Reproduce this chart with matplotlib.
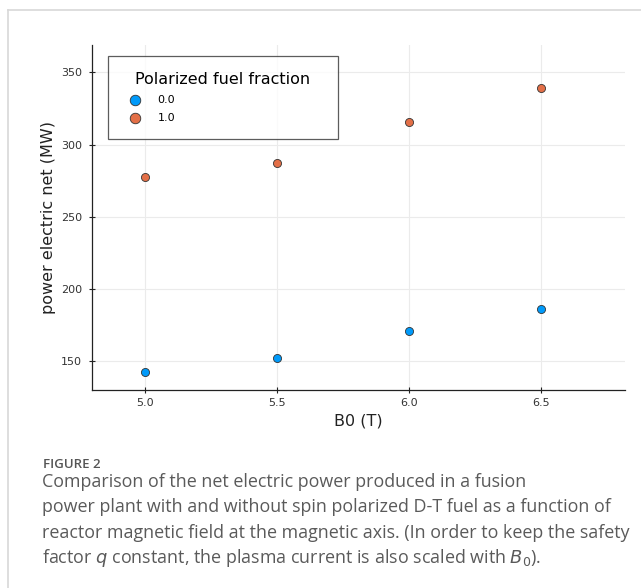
import matplotlib
matplotlib.use('Agg')
import matplotlib.pyplot as plt
from matplotlib.lines import Line2D

# 데이터
b0 = [5.0, 5.5, 6.0, 6.5]
power_unpolarized = [142.5, 152, 171, 186]
power_polarized = [277.5, 287.5, 315.5, 339]
fractions = ['0.0', '1.0']
colors = ['#009AFA', '#E36F47']

plt.rcParams['mathtext.fontset'] = 'dejavusans'

fig = plt.figure(figsize=(6.41, 5.88), dpi=100)

# card border
fig.add_artist(Line2D([8 / 641, 8 / 641], [0, 1 - 10 / 588], color='#d8d8d8', lw=1.2))
fig.add_artist(Line2D([8 / 641, 1], [1 - 10 / 588, 1 - 10 / 588], color='#d8d8d8', lw=1.2))

ax = fig.add_axes([92 / 641, 1 - 390 / 588, (625 - 92) / 641, (390 - 45) / 588])

ax.scatter(b0, power_unpolarized, s=34, color=colors[0], edgecolors='#333333',
           linewidths=0.6, label=fractions[0], zorder=3)
ax.scatter(b0, power_polarized, s=34, color=colors[1], edgecolors='#333333',
           linewidths=0.6, label=fractions[1], zorder=3)

ax.set_xlim(4.8, 6.82)
ax.set_ylim(130, 369)
ax.set_xticks(b0)
ax.set_xticklabels(['5.0', '5.5', '6.0', '6.5'])
ax.set_yticks([150, 200, 250, 300, 350])
ax.grid(True, color='#ebebeb', lw=0.8)
ax.set_axisbelow(True)
for side in ['top', 'right']:
    ax.spines[side].set_visible(False)
for side in ['left', 'bottom']:
    ax.spines[side].set_color('#222222')
    ax.spines[side].set_linewidth(0.9)
ax.tick_params(labelsize=8, length=4, width=0.8, direction='inout',
               color='#222222', labelcolor='#333333')
ax.tick_params(axis='y', pad=5)
ax.tick_params(axis='x', pad=4)

ax.set_xlabel('B0 (T)', fontsize=11.5, color='#222222', labelpad=4)
ax.set_ylabel('power electric net (MW)', fontsize=11.5, color='#222222', labelpad=4)

leg = ax.legend(title='Polarized fuel fraction', loc='upper left',
                bbox_to_anchor=(0.030, 0.0, 0.4315, 0.968), mode='expand',
                borderaxespad=0, fontsize=8, title_fontsize=11.5,
                frameon=True, fancybox=False, edgecolor='#333333',
                handletextpad=1.0, borderpad=1.45, labelspacing=0.7,
                markerscale=1.3)
leg.get_frame().set_linewidth(0.9)
leg._legend_box.align = 'center'

# caption
fig.text(43 / 641, 1 - 468 / 588, 'FIGURE 2', fontsize=9.5, color='#555555',
         family='Open Sans', weight='semibold', va='baseline')
caption = ['Comparison of the net electric power produced in a fusion',
           'power plant with and without spin polarized D-T fuel as a function of',
           'reactor magnetic field at the magnetic axis. (In order to keep the safety',
           'factor $q$ constant, the plasma current is also scaled with $B_0$).']
for i, line in enumerate(caption):
    fig.text(42 / 641, 1 - (487 + i * 25.3) / 588, line, fontsize=12.9,
             color='#5a5a5a', family='Open Sans', va='baseline')

fig.savefig('out.png', dpi=100)
